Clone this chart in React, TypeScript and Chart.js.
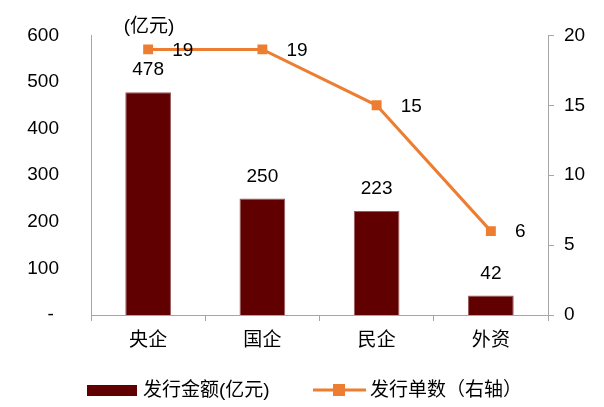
import React, { useEffect, useRef } from "react";
import { Chart, registerables } from "chart.js";

Chart.register(...registerables);

const categories = ["央企", "国企", "民企", "外资"];
const amountValues = [478, 250, 223, 42];
const countValues = [19, 19, 15, 6];
const leftTicks = [0, 100, 200, 300, 400, 500, 600];
const rightTicks = [0, 5, 10, 15, 20];
const amountLabel = "发行金额(亿元)";
const countLabel = "发行单数（右轴）";
const unitLabel = "(亿元)";

const BAR_COLOR = "#600000";
const LINE_COLOR = "#ED7D31";
const AXIS_COLOR = "#A6A6A6";
const NUM_FONT = "'Liberation Sans', Arial, sans-serif";
const CJK_FONT = "'Liberation Sans', 'Noto Sans CJK SC', sans-serif";

const labelPlugin = {
  id: "customLabels",
  afterDatasetsDraw(chart: any) {
    const ctx = chart.ctx;
    ctx.save();
    ctx.fillStyle = "#000";
    ctx.font = `19px ${NUM_FONT}`;
    ctx.textBaseline = "middle";
    const barMeta = chart.getDatasetMeta(1);
    barMeta.data.forEach((el: any, i: number) => {
      ctx.textAlign = "center";
      ctx.fillText(String(amountValues[i]), el.x, el.y - 22);
    });
    const lineMeta = chart.getDatasetMeta(0);
    lineMeta.data.forEach((el: any, i: number) => {
      ctx.textAlign = "left";
      ctx.fillText(String(countValues[i]), el.x + 24, el.y + 1);
    });
    // unit label
    ctx.font = `19px ${CJK_FONT}`;
    ctx.textAlign = "center";
    ctx.fillText(unitLabel, 149, 27);

    // legend
    const ly = 390;
    ctx.fillStyle = BAR_COLOR;
    ctx.fillRect(87, ly - 5, 50, 11);
    ctx.fillStyle = "#000";
    ctx.textAlign = "left";
    ctx.font = `19px ${CJK_FONT}`;
    ctx.fillText(amountLabel, 143, ly + 1);

    ctx.strokeStyle = LINE_COLOR;
    ctx.lineWidth = 3;
    ctx.beginPath();
    ctx.moveTo(313, ly);
    ctx.lineTo(366, ly);
    ctx.stroke();
    ctx.fillStyle = LINE_COLOR;
    ctx.fillRect(333, ly - 6, 12, 12);
    ctx.fillStyle = "#000";
    ctx.fillText(countLabel, 370, ly + 1);
    ctx.restore();
  },
};

export default function App() {
  const ref = useRef<HTMLCanvasElement>(null);
  useEffect(() => {
    document.body.style.margin = "0";
    if (!ref.current) return;
    const chart = new Chart(ref.current, {
      type: "bar",
      data: {
        labels: categories,
        datasets: [
          {
            type: "line",
            label: countLabel,
            data: countValues,
            yAxisID: "y1",
            borderColor: LINE_COLOR,
            backgroundColor: LINE_COLOR,
            borderWidth: 3,
            pointStyle: "rect",
            pointRadius: 7,
            pointBorderWidth: 0,
            pointBackgroundColor: LINE_COLOR,
            tension: 0,
            order: 0,
          } as any,
          {
            type: "bar",
            label: amountLabel,
            data: amountValues,
            yAxisID: "y",
            backgroundColor: BAR_COLOR,
            borderColor: "#9a5a5a",
            borderWidth: 1,
            categoryPercentage: 1,
            barPercentage: 0.4,
            order: 1,
          },
        ],
      },
      options: {
        responsive: false,
        animation: false,
        layout: { padding: { top: 32, left: 0, right: 0, bottom: 0 } },
        plugins: { legend: { display: false }, tooltip: { enabled: false } },
        scales: {
          x: {
            type: "category",
            offset: true,
            grid: {
              offset: true,
              drawOnChartArea: false,
              drawTicks: true,
              tickLength: 6,
              color: AXIS_COLOR,
            },
            border: { color: AXIS_COLOR },
            ticks: {
              color: "#000",
              font: { family: CJK_FONT, size: 19 },
              padding: 8,
            },
            afterFit(scale: any) {
              scale.height = 92;
            },
          },
          y: {
            position: "left",
            min: 0,
            max: 600,
            afterBuildTicks(scale: any) {
              scale.ticks = leftTicks.map((v) => ({ value: v }));
            },
            grid: { display: false },
            border: { display: true, color: AXIS_COLOR },
            ticks: {
              color: "#000",
              font: { family: NUM_FONT, size: 19 },
              padding: 24,
              callback: (v: any) => (v === 0 ? "-\u00A0" : String(v)),
            },
            afterFit(scale: any) {
              scale.width = 91;
            },
          },
          y1: {
            position: "right",
            min: 0,
            max: 20,
            afterBuildTicks(scale: any) {
              scale.ticks = rightTicks.map((v) => ({ value: v }));
            },
            grid: {
              drawOnChartArea: false,
              drawTicks: true,
              tickLength: 6,
              color: AXIS_COLOR,
            },
            border: { display: true, color: AXIS_COLOR },
            ticks: {
              color: "#000",
              font: { family: NUM_FONT, size: 19 },
              padding: 10,
            },
            afterFit(scale: any) {
              scale.width = 56;
            },
          },
        },
      } as any,
      plugins: [labelPlugin],
    });
    return () => chart.destroy();
  }, []);
  return (
    <div style={{ width: 604, height: 407 }}>
      <canvas ref={ref} width={604} height={407} style={{ display: "block" }} />
    </div>
  );
}
